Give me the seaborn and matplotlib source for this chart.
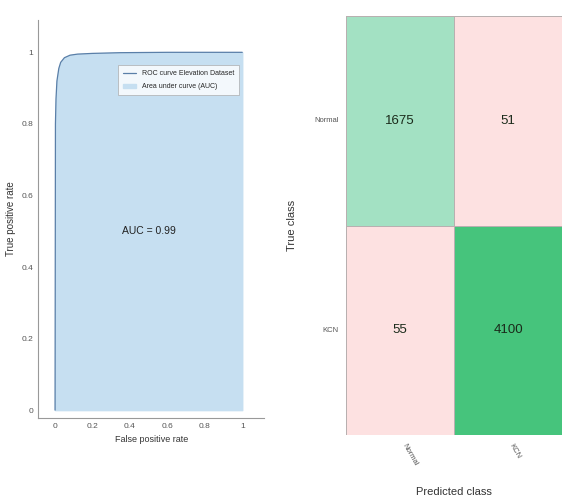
import numpy as np
import pandas as pd
import matplotlib
matplotlib.use('Agg')
import matplotlib.pyplot as plt
import seaborn as sb
from matplotlib.colors import LinearSegmentedColormap

# ROC curve values
fpr = [0.0, 0.002, 0.005, 0.01, 0.02, 0.03, 0.05, 0.08, 0.12, 0.2, 0.35, 0.6, 1.0]
tpr = [0.0, 0.80, 0.87, 0.92, 0.955, 0.972, 0.985, 0.992, 0.995, 0.997, 0.999, 1.0, 1.0]
auc_value = 0.99

# confusion matrix
classes = ['Normal', 'KCN']
cm_values = [[1675, 51],
             [55, 4100]]

sb.set_style('white')
plt.rcParams['font.family'] = ['Liberation Sans Narrow', 'Liberation Sans', 'DejaVu Sans']

fig = plt.figure(figsize=(5.62, 5.03), dpi=100)

# Left: ROC curve
ax1 = fig.add_axes([0.068, 0.169, 0.402, 0.791])
roc = pd.DataFrame({'fpr': fpr, 'tpr': tpr})
ax1.fill_between(roc.fpr, 0, roc.tpr, color='#c6dff1', label='Area under curve (AUC)')
sb.lineplot(data=roc, x='fpr', y='tpr', ax=ax1, color='#5a7fa8', linewidth=0.9,
            label='ROC curve Elevation Dataset')
ax1.text(0.5, 0.5, 'AUC = %.2f' % auc_value, ha='center', va='center', fontsize=7.5, color='#222222')
ax1.set_xlim(-0.09, 1.117)
ax1.set_ylim(-0.022, 1.09)
ax1.set_xticks([0, 0.2, 0.4, 0.6, 0.8, 1])
ax1.set_xticklabels(['0', '0.2', '0.4', '0.6', '0.8', '1'])
ax1.set_yticks([0, 0.2, 0.4, 0.6, 0.8, 1])
ax1.set_yticklabels(['0', '0.2', '0.4', '0.6', '0.8', '1'])
ax1.tick_params(labelsize=6, colors='#555555', length=2, direction='in')
ax1.set_xlabel('False positive rate', fontsize=6.5, color='#333333')
ax1.set_ylabel('True positive rate', fontsize=7, color='#333333')
for s in ['top', 'right']:
    ax1.spines[s].set_visible(False)
for s in ['left', 'bottom']:
    ax1.spines[s].set_color('#999999')
    ax1.spines[s].set_linewidth(0.8)
handles, labels = ax1.get_legend_handles_labels()
leg = ax1.legend(handles[::-1], labels[::-1], loc='upper right', bbox_to_anchor=(0.905, 0.895),
                 fontsize=5, frameon=True, fancybox=False, edgecolor='#aaaaaa',
                 handlelength=2.0, borderpad=0.7, labelspacing=0.9)
leg.get_frame().set_linewidth(0.6)

# Right: confusion matrix
ax2 = fig.add_axes([0.616, 0.135, 0.384, 0.833])
cmap = LinearSegmentedColormap.from_list('pinkgreen',
                                         [(0.0, '#fde2e2'), (0.02, '#fde0e0'),
                                          (0.41, '#a2e1c3'), (1.0, '#46c47c')])
cm_df = pd.DataFrame(cm_values, index=classes, columns=classes)
sb.heatmap(cm_df, annot=True, fmt='d', cmap=cmap, vmin=0, vmax=4100, cbar=False,
           linewidths=0.6, linecolor='#b8b0b0', ax=ax2,
           annot_kws={'fontsize': 9.5, 'color': '#1a2a1a'})
ax2.set_xticklabels(classes, rotation=-60, ha='left', fontsize=5.5, color='#555555')
ax2.set_yticklabels(classes, rotation=0, fontsize=5.5, color='#555555')
ax2.tick_params(length=2)
ax2.set_xlabel('Predicted class', fontsize=8, color='#333333', labelpad=14)
ax2.set_ylabel('True class', fontsize=8, color='#333333', labelpad=12)

fig.savefig('out.png', dpi=100)
